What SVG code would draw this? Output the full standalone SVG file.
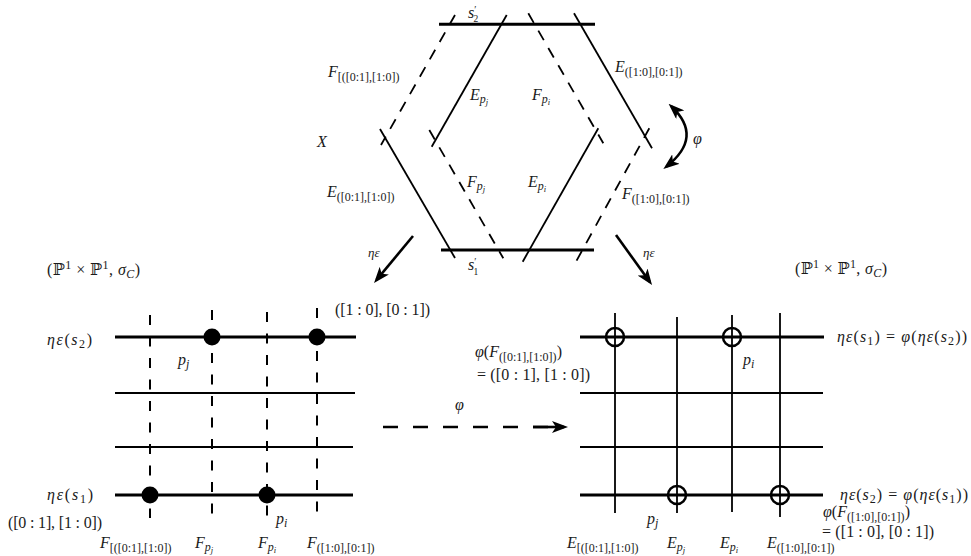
<svg xmlns="http://www.w3.org/2000/svg" width="971" height="556" viewBox="0 0 971 556">
<style>
.t{font-family:"Liberation Serif","DejaVu Serif",serif;font-size:16px;fill:#1a1a1a}
.i{font-style:italic}
.sub{font-size:12px}
.ss{font-size:8.5px}
.sm{font-size:13px}
.thin{stroke:#000;stroke-width:1.8;fill:none}
.thick{stroke:#000;stroke-width:3;fill:none}
.hdash{stroke:#000;stroke-width:1.8;fill:none;stroke-dasharray:11 9}
.gdash{stroke:#000;stroke-width:2;fill:none;stroke-dasharray:10 11.5}
.arr{stroke:#000;stroke-width:2.6;fill:none}
</style>
<defs>
<marker id="ah" viewBox="0 0 16 12" refX="12" refY="6" markerWidth="16" markerHeight="12" markerUnits="userSpaceOnUse" orient="auto-start-reverse">
<path d="M0,0 L16,6 L0,12 L4,6 z" fill="#000"/>
</marker>
</defs>

<g id="surface-X">
<line class="thick" x1="439" y1="24.3" x2="595" y2="24.3"/>
<line class="thick" x1="441" y1="250" x2="594" y2="250"/>
<line class="hdash" x1="455" y1="15" x2="381" y2="145"/>
<line class="thin" x1="380" y1="129" x2="455" y2="258"/>
<line class="thin" x1="506.7" y1="15" x2="431.7" y2="146.7"/>
<line class="hdash" x1="429.3" y1="130" x2="503.3" y2="258.3"/>
<line class="hdash" x1="528.3" y1="13.3" x2="603.3" y2="143.3"/>
<line class="thin" x1="598.3" y1="128.3" x2="522.7" y2="261.7"/>
<line class="thin" x1="574" y1="13.3" x2="652" y2="148.3"/>
<line class="hdash" x1="649.3" y1="128.3" x2="576" y2="261.7"/>
<text class="t" x="468" y="18"><tspan class="i">s</tspan><tspan font-size="10" dy="-5">′</tspan><tspan font-size="9.5" dx="-3" dy="8.5">2</tspan></text>
<text class="t" x="468" y="270"><tspan class="i">s</tspan><tspan font-size="10" dy="-5">′</tspan><tspan font-size="9.5" dx="-3" dy="10">1</tspan></text>
<text class="t" x="328" y="77"><tspan class="i">F</tspan><tspan class="sub" dy="3.5">[([0:1],[1:0])</tspan></text>
<text class="t" x="470" y="100"><tspan class="i">E</tspan><tspan class="sub i" dy="3">p</tspan><tspan class="ss i" dy="2">j</tspan></text>
<text class="t" x="532" y="100"><tspan class="i">F</tspan><tspan class="sub i" dy="3">p</tspan><tspan class="ss i" dy="2">i</tspan></text>
<text class="t" x="615" y="72"><tspan class="i">E</tspan><tspan class="sub" dy="3.5">([1:0],[0:1])</tspan></text>
<text class="t i" x="317" y="147">X</text>
<text class="t" x="467" y="187"><tspan class="i">F</tspan><tspan class="sub i" dy="3">p</tspan><tspan class="ss i" dy="2">j</tspan></text>
<text class="t" x="528" y="187"><tspan class="i">E</tspan><tspan class="sub i" dy="3">p</tspan><tspan class="ss i" dy="2">i</tspan></text>
<text class="t" x="327" y="197"><tspan class="i">E</tspan><tspan class="sub" dy="3.5">([0:1],[1:0])</tspan></text>
<text class="t" x="622" y="199"><tspan class="i">F</tspan><tspan class="sub" dy="3.5">([1:0],[0:1])</tspan></text>
</g>

<g id="grid-left">
<line class="thick" x1="115" y1="337" x2="356" y2="337"/>
<line class="thin" x1="115" y1="393" x2="355" y2="393"/>
<line class="thin" x1="115" y1="447" x2="353" y2="447"/>
<line class="thick" x1="115" y1="495" x2="353" y2="495"/>
<line class="gdash" x1="150" y1="315" x2="150" y2="518"/>
<line class="gdash" x1="212" y1="310" x2="212" y2="516"/>
<line class="gdash" x1="267" y1="312" x2="267" y2="516"/>
<line class="gdash" x1="317" y1="308" x2="317" y2="513"/>
<circle cx="212" cy="337" r="8.5" fill="#000"/>
<circle cx="317" cy="337" r="8.5" fill="#000"/>
<circle cx="150" cy="495" r="8.5" fill="#000"/>
<circle cx="267" cy="495" r="8.5" fill="#000"/>
<text class="t" x="47" y="275" textLength="93">(ℙ<tspan class="sub" dy="-6">1</tspan><tspan dy="6"> × ℙ</tspan><tspan class="sub" dy="-6">1</tspan><tspan dy="6">, </tspan><tspan class="i">σ</tspan><tspan class="sub i" dy="3">C</tspan><tspan dy="-3">)</tspan></text>
<text class="t" x="335" y="315" textLength="95">([1 : 0], [0 : 1])</text>
<text class="t" x="47" y="345" textLength="45"><tspan class="i">ηε</tspan>(<tspan class="i">s</tspan><tspan class="sub" dy="3">2</tspan><tspan dy="-3">)</tspan></text>
<text class="t" x="178" y="365"><tspan class="i">p</tspan><tspan class="sub i" dy="3">j</tspan></text>
<text class="t" x="47" y="500" textLength="46"><tspan class="i">ηε</tspan>(<tspan class="i">s</tspan><tspan class="sub" dy="3">1</tspan><tspan dy="-3">)</tspan></text>
<text class="t" x="8" y="528" textLength="94">([0 : 1], [1 : 0])</text>
<text class="t" x="276" y="524"><tspan class="i">p</tspan><tspan class="sub i" dy="3">i</tspan></text>
<text class="t" x="100" y="548"><tspan class="i">F</tspan><tspan class="sub" dy="3.5">[([0:1],[1:0])</tspan></text>
<text class="t" x="195" y="548"><tspan class="i">F</tspan><tspan class="sub i" dy="3">p</tspan><tspan class="ss i" dy="2">j</tspan></text>
<text class="t" x="258" y="548"><tspan class="i">F</tspan><tspan class="sub i" dy="3">p</tspan><tspan class="ss i" dy="2">i</tspan></text>
<text class="t" x="307" y="548"><tspan class="i">F</tspan><tspan class="sub" dy="3.5">([1:0],[0:1])</tspan></text>
</g>

<g id="grid-right">
<line class="thick" x1="580" y1="337" x2="824" y2="337"/>
<line class="thin" x1="580" y1="393" x2="823" y2="393"/>
<line class="thin" x1="580" y1="447" x2="823" y2="447"/>
<line class="thick" x1="580" y1="495" x2="823" y2="495"/>
<line class="thin" x1="615" y1="313" x2="615" y2="513"/>
<line class="thin" x1="677" y1="317" x2="677" y2="513"/>
<line class="thin" x1="732" y1="315" x2="732" y2="512"/>
<line class="thin" x1="780" y1="313" x2="780" y2="517"/>
<circle cx="615" cy="337" r="9" fill="none" stroke="#000" stroke-width="2.5"/>
<circle cx="732" cy="337" r="9" fill="none" stroke="#000" stroke-width="2.5"/>
<circle cx="677" cy="495" r="9" fill="none" stroke="#000" stroke-width="2.5"/>
<circle cx="780" cy="495" r="9" fill="none" stroke="#000" stroke-width="2.5"/>
<text class="t" x="795" y="274" textLength="92">(ℙ<tspan class="sub" dy="-6">1</tspan><tspan dy="6"> × ℙ</tspan><tspan class="sub" dy="-6">1</tspan><tspan dy="6">, </tspan><tspan class="i">σ</tspan><tspan class="sub i" dy="3">C</tspan><tspan dy="-3">)</tspan></text>
<text class="t" x="837" y="342" textLength="130"><tspan class="i">ηε</tspan>(<tspan class="i">s</tspan><tspan class="sub" dy="3">1</tspan><tspan dy="-3">) = </tspan><tspan class="i">φ</tspan>(<tspan class="i">ηε</tspan>(<tspan class="i">s</tspan><tspan class="sub" dy="3">2</tspan><tspan dy="-3">))</tspan></text>
<text class="t" x="743" y="365"><tspan class="i">p</tspan><tspan class="sub i" dy="3">i</tspan></text>
<text class="t" x="840" y="500" textLength="128"><tspan class="i">ηε</tspan>(<tspan class="i">s</tspan><tspan class="sub" dy="3">2</tspan><tspan dy="-3">) = </tspan><tspan class="i">φ</tspan>(<tspan class="i">ηε</tspan>(<tspan class="i">s</tspan><tspan class="sub" dy="3">1</tspan><tspan dy="-3">))</tspan></text>
<text class="t" x="647" y="524"><tspan class="i">p</tspan><tspan class="sub i" dy="3">j</tspan></text>
<text class="t" x="823" y="517"><tspan class="i">φ</tspan>(<tspan class="i">F</tspan><tspan class="sub" dy="3.5">([1:0],[0:1])</tspan><tspan dy="-3.5">)</tspan></text>
<text class="t" x="822" y="537" textLength="112">= ([1 : 0], [0 : 1])</text>
<text class="t" x="567" y="548"><tspan class="i">E</tspan><tspan class="sub" dy="3.5">[([0:1],[1:0])</tspan></text>
<text class="t" x="667" y="548"><tspan class="i">E</tspan><tspan class="sub i" dy="3">p</tspan><tspan class="ss i" dy="2">j</tspan></text>
<text class="t" x="720" y="548"><tspan class="i">E</tspan><tspan class="sub i" dy="3">p</tspan><tspan class="ss i" dy="2">i</tspan></text>
<text class="t" x="767" y="548"><tspan class="i">E</tspan><tspan class="sub" dy="3.5">([1:0],[0:1])</tspan></text>
</g>

<g id="connectors">
<line class="arr" x1="413" y1="236" x2="376.6" y2="279.9" marker-end="url(#ah)"/>
<line class="arr" x1="616" y1="235" x2="649.7" y2="281.8" marker-end="url(#ah)"/>
<path class="arr" d="M671.5,106.5 Q704,137 666.5,166.5" marker-start="url(#ah)" marker-end="url(#ah)"/>
<line class="arr" x1="383" y1="427" x2="548" y2="427" stroke-dasharray="15 15"/>
<line class="arr" x1="533" y1="427" x2="564" y2="427" marker-end="url(#ah)"/>
<text class="t sm i" x="368" y="257">ηε</text>
<text class="t sm i" x="643" y="257">ηε</text>
<text class="t i" x="693" y="144">φ</text>
<text class="t i" x="455" y="410">φ</text>
<text class="t" x="475" y="357"><tspan class="i">φ</tspan>(<tspan class="i">F</tspan><tspan class="sub" dy="3.5">([0:1],[1:0])</tspan><tspan dy="-3.5">)</tspan></text>
<text class="t" x="477" y="380" textLength="113">= ([0 : 1], [1 : 0])</text>
</g>
</svg>
